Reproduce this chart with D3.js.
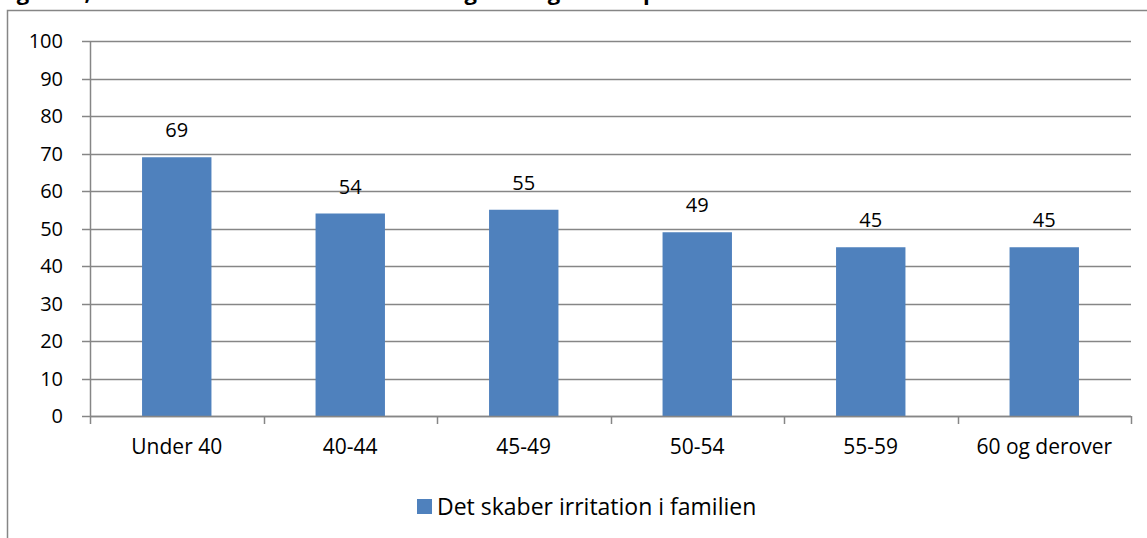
<!DOCTYPE html>
<html>
<head>
<meta charset="utf-8">
<script src="https://cdn.jsdelivr.net/npm/d3@7"></script>
<style>
  html, body { margin: 0; padding: 0; background: #fff; }
  svg text { font-family: "Open Sans", "Noto Sans", sans-serif; fill: #000; }
</style>
</head>
<body>
<svg id="chart"></svg>
<script>
'use strict';

var width = 1147;
var height = 538;

var title = 'Figur 12, Andelen der mener at det skaber gnidninger med partneren';
var categories = ['Under 40', '40-44', '45-49', '50-54', '55-59', '60 og derover'];
var values = [69, 54, 55, 49, 45, 45];
var series_name = 'Det skaber irritation i familien';
var y_ticks = [0, 10, 20, 30, 40, 50, 60, 70, 80, 90, 100];

var bar_color = '#4f81bd';
var grid_color = '#868686';

var plot_left = 90;
var plot_right = 1131;
var plot_top = 41;
var plot_bottom = 416;

var svg = d3.select('#chart').attr('width', width).attr('height', height);

// chart frame (cut off at right and bottom like the original)
svg.append('rect').attr('x', 7.5).attr('y', 10.5).attr('width', width + 20).attr('height', height + 20)
    .attr('fill', 'none').attr('stroke', grid_color).attr('stroke-width', 1.5);

// title, mostly above the visible area
svg.append('text').attr('x', -2).attr('y', 0).style('font-size', '22px').style('font-weight', 'bold').text(title);

var x = d3.scaleBand().domain(categories).range([plot_left, plot_right]).paddingInner(0.6).paddingOuter(0.3);
var x_edges = d3.scaleLinear().domain([0, categories.length]).range([plot_left, plot_right]);
var y = d3.scaleLinear().domain([0, 100]).range([plot_bottom, plot_top]);

// gridlines
svg.append('g').selectAll('line').data(y_ticks).enter().append('line')
    .attr('x1', plot_left - 8).attr('x2', plot_right)
    .attr('y1', function (d) { return Math.round(y(d)) + 0.5; })
    .attr('y2', function (d) { return Math.round(y(d)) + 0.5; })
    .attr('stroke', grid_color).attr('stroke-width', 1.5);

// y axis line
svg.append('line').attr('x1', plot_left + 0.5).attr('x2', plot_left + 0.5)
    .attr('y1', plot_top).attr('y2', plot_bottom + 1)
    .attr('stroke', grid_color).attr('stroke-width', 1.5);

svg.append('g').selectAll('text').data(y_ticks).enter().append('text')
    .attr('x', 63).attr('y', function (d) { return y(d); })
    .attr('dy', '0.36em').attr('text-anchor', 'end').style('font-size', '20px')
    .text(function (d) { return d; });

// bars
svg.append('g').selectAll('rect').data(values).enter().append('rect')
    .attr('x', function (d, i) { return x(categories[i]); })
    .attr('y', function (d) { return y(d); })
    .attr('width', x.bandwidth())
    .attr('height', function (d) { return y(0) - y(d); })
    .attr('fill', bar_color);

// data labels
svg.append('g').selectAll('text').data(values).enter().append('text')
    .attr('x', function (d, i) { return x(categories[i]) + x.bandwidth() / 2; })
    .attr('y', function (d) { return y(d) - 20; })
    .attr('text-anchor', 'middle').style('font-size', '20px')
    .text(function (d) { return d; });

// x axis line and category ticks
svg.append('line').attr('x1', plot_left).attr('x2', plot_right)
    .attr('y1', plot_bottom + 0.5).attr('y2', plot_bottom + 0.5)
    .attr('stroke', grid_color).attr('stroke-width', 1.5);

svg.append('g').selectAll('line').data(d3.range(categories.length + 1)).enter().append('line')
    .attr('x1', function (d) { return Math.round(x_edges(d)) + 0.5; })
    .attr('x2', function (d) { return Math.round(x_edges(d)) + 0.5; })
    .attr('y1', plot_bottom).attr('y2', plot_bottom + 8)
    .attr('stroke', grid_color).attr('stroke-width', 1.5);

svg.append('g').selectAll('text').data(categories).enter().append('text')
    .attr('x', function (d) { return x(d) + x.bandwidth() / 2; })
    .attr('y', 454).attr('text-anchor', 'middle').style('font-size', '21px')
    .text(function (d) { return d; });

// legend
var legend = svg.append('g').attr('transform', 'translate(417,499)');
legend.append('rect').attr('width', 15).attr('height', 15).attr('fill', bar_color);
legend.append('text').attr('x', 20).attr('y', 8).attr('dy', '0.36em').style('font-size', '23px').text(series_name);
</script>
</body>
</html>
